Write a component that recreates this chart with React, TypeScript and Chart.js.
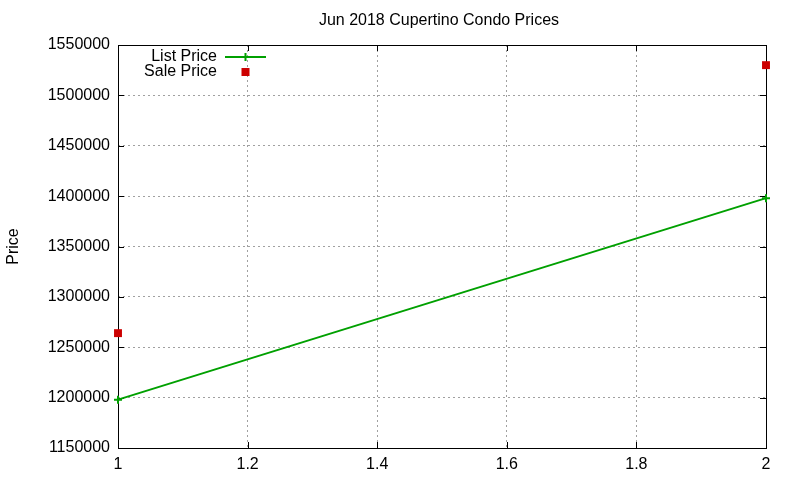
import { useRef, useEffect } from 'react';
import { Chart, registerables } from 'chart.js';

Chart.register(...registerables);

const TITLE = 'Jun 2018 Cupertino Condo Prices';
const Y_TITLE = 'Price';
const X_VALUES = [1, 2];
const LIST_PRICE = [1198000, 1398000];
const SALE_PRICE = [1264000, 1530000];
const LABELS = ['List Price', 'Sale Price'];

const FONT = '"Liberation Sans", Arial, sans-serif';
const SIZE = 16;
const GREEN = '#00a000';
const RED = '#cc0000';

// gnuplot-like frame, inward ticks, title and legend
const gnuplotPlugin = {
  id: 'gnuplotDecor',
  beforeDatasetsDraw(chart: any) {
    const { ctx, chartArea: a, scales } = chart;
    ctx.save();
    ctx.strokeStyle = '#000';
    ctx.lineWidth = 1;
    ctx.beginPath();
    const tick = 6;
    scales.y.ticks.forEach((t: any) => {
      const y = Math.round(scales.y.getPixelForValue(t.value)) + 0.5;
      ctx.moveTo(a.left, y);
      ctx.lineTo(a.left + tick, y);
      ctx.moveTo(a.right, y);
      ctx.lineTo(a.right - tick, y);
    });
    scales.x.ticks.forEach((t: any) => {
      const x = Math.round(scales.x.getPixelForValue(t.value)) + 0.5;
      ctx.moveTo(x, a.bottom);
      ctx.lineTo(x, a.bottom - tick);
      ctx.moveTo(x, a.top);
      ctx.lineTo(x, a.top + tick);
    });
    ctx.stroke();
    ctx.strokeRect(Math.round(a.left) + 0.5, Math.round(a.top) + 0.5, Math.round(a.right - a.left), Math.round(a.bottom - a.top));
    ctx.restore();
  },
  afterDraw(chart: any) {
    const { ctx, chartArea: a } = chart;
    ctx.save();
    // title
    ctx.fillStyle = '#000';
    ctx.font = `${SIZE}px ${FONT}`;
    ctx.textAlign = 'center';
    ctx.textBaseline = 'middle';
    ctx.fillText(TITLE, (a.left + a.right) / 2 - 3, 21);

    // legend
    ctx.textAlign = 'right';
    const textRight = 217;
    const sampleL = 225;
    const sampleR = 266;
    const mid = (sampleL + sampleR) / 2;
    const ds = chart.data.datasets;
    ds.forEach((d: any, i: number) => {
      const y = 57 + i * 15;
      ctx.fillStyle = '#000';
      ctx.fillText(d.label, textRight, y);
      if (i === 0) {
        ctx.strokeStyle = d.borderColor;
        ctx.lineWidth = 2;
        ctx.beginPath();
        ctx.moveTo(sampleL, y);
        ctx.lineTo(sampleR, y);
        ctx.moveTo(mid, y - 4);
        ctx.lineTo(mid, y + 4);
        ctx.stroke();
      } else {
        ctx.fillStyle = d.backgroundColor;
        ctx.fillRect(mid - 4, y - 4, 8, 8);
      }
    });
    ctx.restore();
  },
};

function PriceChart() {
  const canvasRef = useRef<HTMLCanvasElement>(null);

  useEffect(() => {
    if (!canvasRef.current) return;
    const chart = new Chart(canvasRef.current, {
      type: 'line',
      data: {
        datasets: [
          {
            label: LABELS[0],
            data: X_VALUES.map((x, i) => ({ x, y: LIST_PRICE[i] })),
            borderColor: GREEN,
            backgroundColor: GREEN,
            borderWidth: 2,
            pointStyle: 'cross',
            pointRadius: 4,
            pointBorderWidth: 2,
            tension: 0,
            clip: false,
          },
          {
            type: 'scatter',
            label: LABELS[1],
            data: X_VALUES.map((x, i) => ({ x, y: SALE_PRICE[i] })),
            borderColor: RED,
            backgroundColor: RED,
            borderWidth: 0,
            pointStyle: 'rect',
            pointRadius: 5.6,
            pointBorderWidth: 0,
            showLine: false,
            clip: false,
          },
        ],
      },
      options: {
        animation: false,
        responsive: false,
        layout: { padding: { left: 4, right: 34, top: 45, bottom: 0 } },
        plugins: {
          legend: { display: false },
          title: { display: false },
          tooltip: { enabled: false },
        },
        scales: {
          x: {
            type: 'linear',
            min: 1,
            max: 2,
            border: { display: false, dash: [2, 3] },
            grid: { color: '#a0a0a0', drawTicks: false },
            ticks: {
              stepSize: 0.2,
              padding: 7,
              color: '#000',
              font: { family: FONT, size: SIZE },
              callback: (v: any) => String(Math.round(Number(v) * 10) / 10),
            },
            afterFit: (s: any) => { s.height = 32; },
          },
          y: {
            type: 'linear',
            min: 1150000,
            max: 1550000,
            border: { display: false, dash: [2, 3] },
            grid: { color: '#a0a0a0', drawTicks: false },
            title: { display: true, text: Y_TITLE, color: '#000', font: { family: FONT, size: SIZE }, padding: 0 },
            ticks: {
              stepSize: 50000,
              padding: 8,
              color: '#000',
              font: { family: FONT, size: SIZE },
              callback: (v: any) => String(v),
            },
            afterFit: (s: any) => { s.width = 114; },
          },
        },
      },
      plugins: [gnuplotPlugin],
    });
    return () => chart.destroy();
  }, []);

  return <canvas ref={canvasRef} width={800} height={480} />;
}

export default function App() {
  return (
    <div style={{ position: 'fixed', left: 0, top: 0, width: 800, height: 480, background: '#fff' }}>
      <PriceChart />
    </div>
  );
}
